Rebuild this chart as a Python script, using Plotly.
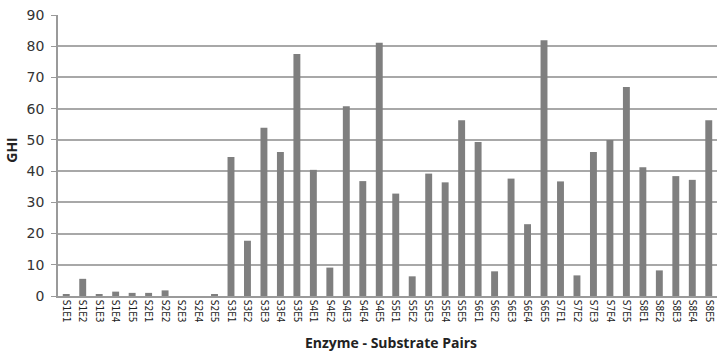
import plotly.graph_objects as go

categories = [f"S{s}E{e}" for s in range(1, 9) for e in range(1, 6)]
ghi = [0.5, 5.5, 0.5, 1.4, 1.0, 1.0, 1.8, 0.0, 0.0, 0.5,
       44.5, 17.7, 53.9, 46.1, 77.5, 40.4, 9.1, 60.8, 36.8, 81.1,
       32.8, 6.3, 39.2, 36.4, 56.3, 49.3, 7.9, 37.6, 23.0, 81.9,
       36.7, 6.6, 46.1, 50.0, 66.9, 41.2, 8.2, 38.4, 37.2, 56.3]
y_ticks = [0, 10, 20, 30, 40, 50, 60, 70, 80, 90]

fig = go.Figure(go.Bar(x=categories, y=ghi, marker=dict(color="#7f7f7f", line=dict(width=0)),
                       width=0.42))

fig.update_layout(
    width=724, height=352,
    margin=dict(l=58, r=7, t=15, b=56),
    plot_bgcolor="white", paper_bgcolor="white",
    showlegend=False,
    font=dict(family="DejaVu Sans", color="#333333"),
    xaxis=dict(tickangle=90, tickfont=dict(size=10, family="DejaVu Sans Condensed", color="#222222"),
               showline=True, linecolor="#9a9a9a", linewidth=1.5, ticks="", showgrid=False,
               range=[-0.5, 39.5], automargin=False),
    yaxis=dict(range=[0, 90], tickvals=y_ticks, tickfont=dict(size=14, color="#333333"),
               showline=True, linecolor="#9a9a9a", linewidth=1.5,
               showgrid=True, gridcolor="#a8a8a8", gridwidth=1.5, zeroline=False,
               ticks="outside", ticklen=5, tickcolor="#9a9a9a", ticklabelstandoff=4,
               automargin=False),
    annotations=[
        dict(text="<b>Enzyme - Substrate Pairs</b>", xref="paper", yref="paper", x=0.505, y=-0.167,
             showarrow=False, yanchor="middle", font=dict(size=14, family="Open Sans", color="#222222")),
        dict(text="<b>GHI</b>", xref="paper", yref="paper", x=-0.07, y=0.52, textangle=-90,
             showarrow=False, xanchor="center", font=dict(size=14, family="Open Sans", color="#222222")),
    ],
)

fig.write_html("out.html", config={"displayModeBar": False},
               post_script="document.body.style.margin='0';document.body.style.overflow='hidden';")
